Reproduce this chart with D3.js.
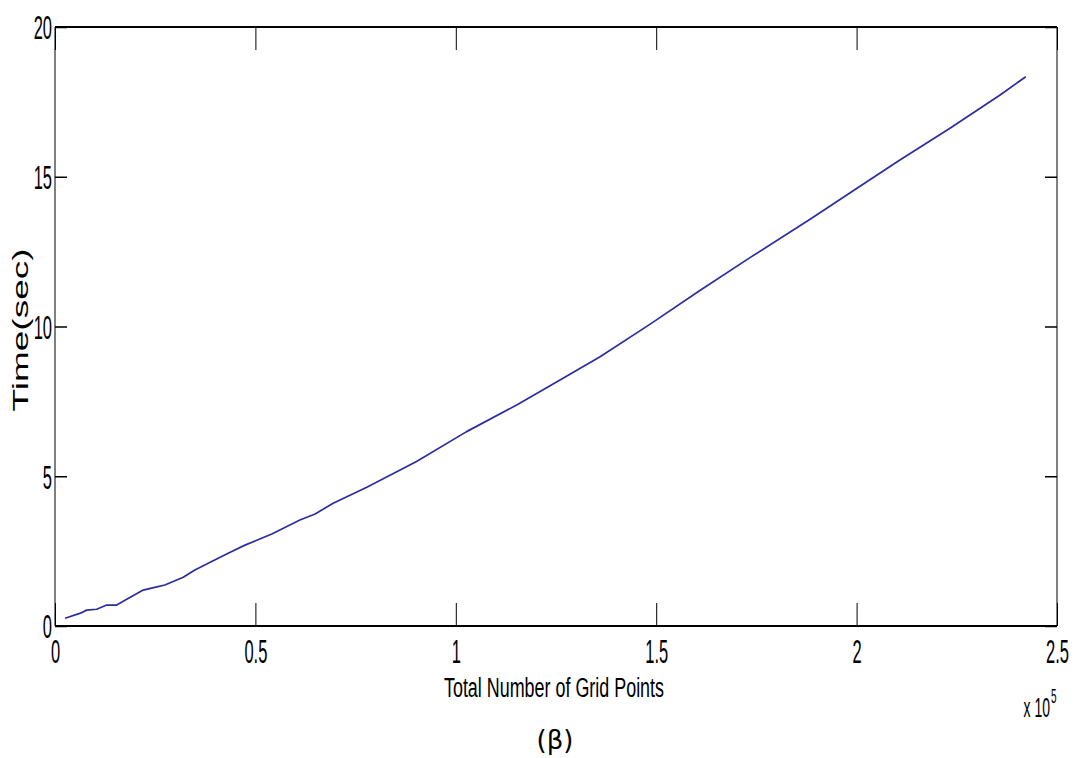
<!DOCTYPE html>
<html>
<head>
<meta charset="utf-8">
<script src="https://cdn.jsdelivr.net/npm/d3@7"></script>
<style>
  body { margin: 0; background: #fff; }
  text { font-family: "Liberation Sans", Arial, sans-serif; fill: #000; }
</style>
</head>
<body>
<div id="chart"></div>
<script>
// grid points vs run time
var gridPoints = [2500, 6200, 7900, 10400, 12900, 15400, 17900, 22000, 24900, 27400,
  32000, 34900, 39100, 43200, 47400, 54100, 61100, 64900, 69400, 77800,
  90200, 102700, 115200, 126000, 136000, 148500, 160900, 173400, 188400, 198300,
  210800, 223300, 235800, 242200];
var timeSec = [0.26, 0.42, 0.53, 0.56, 0.70, 0.70, 0.89, 1.20, 1.29, 1.37,
  1.63, 1.87, 2.15, 2.43, 2.70, 3.07, 3.54, 3.74, 4.10, 4.63,
  5.49, 6.49, 7.38, 8.21, 8.99, 10.08, 11.2, 12.3, 13.58, 14.46,
  15.56, 16.62, 17.73, 18.34];

var xTicks = [0, 50000, 100000, 150000, 200000, 250000];
var xTickLabels = ["0", "0.5", "1", "1.5", "2", "2.5"];
var yTicks = [0, 5, 10, 15, 20];
var yTickLabels = ["0", "5", "10", "15", "20"];

var W = 1078, H = 758;
var margin = {top: 27, right: 21, bottom: 132, left: 55};
var width = W - margin.left - margin.right,
  height = H - margin.top - margin.bottom;

var svg = d3.select("#chart").append("svg")
  .attr("width", W)
  .attr("height", H);

var g = svg.append("g")
  .attr("transform", "translate(" + margin.left + "," + margin.top + ")");

var x = d3.scaleLinear().domain([0, 250000]).range([0, width]);
var y = d3.scaleLinear().domain([0, 20]).range([height, 0]);

var squeeze = 0.5; // the figure's glyphs are narrow

// bottom axis, ticks pointing inward
var xAxis = g.append("g")
  .attr("transform", "translate(0," + height + ")")
  .call(d3.axisBottom(x).tickValues(xTicks)
    .tickFormat(function(d, i) { return xTickLabels[i]; })
    .tickSize(-23).tickPadding(0));
xAxis.select(".domain").remove();
xAxis.selectAll("line").attr("stroke", "#000").attr("stroke-width", 1);
xAxis.selectAll("text")
  .attr("y", 37).attr("dy", null)
  .style("font-size", "33px")
  .attr("transform", "scale(" + squeeze + ",1)");

// top axis, no labels
var xTop = g.append("g")
  .call(d3.axisTop(x).tickValues(xTicks).tickFormat("").tickSize(-23));
xTop.select(".domain").remove();
xTop.selectAll("line").attr("stroke", "#000").attr("stroke-width", 1);

// left axis
var yAxis = g.append("g")
  .call(d3.axisLeft(y).tickValues(yTicks)
    .tickFormat(function(d, i) { return yTickLabels[i]; })
    .tickSize(-12).tickPadding(0));
yAxis.select(".domain").remove();
yAxis.selectAll("line").attr("stroke", "#000").attr("stroke-width", 1.5);
yAxis.selectAll("text")
  .attr("x", -3 / squeeze).attr("dy", "0.36em")
  .style("font-size", "33px")
  .attr("transform", "scale(" + squeeze + ",1)");

// right axis, no labels
var yRight = g.append("g")
  .attr("transform", "translate(" + width + ",0)")
  .call(d3.axisRight(y).tickValues(yTicks).tickFormat("").tickSize(-12));
yRight.select(".domain").remove();
yRight.selectAll("line").attr("stroke", "#000").attr("stroke-width", 1.5);

// box
g.append("line").attr("x1", 0).attr("x2", width).attr("y1", 0).attr("y2", 0)
  .attr("stroke", "#000").attr("stroke-width", 2);
g.append("line").attr("x1", 0).attr("x2", width).attr("y1", height).attr("y2", height)
  .attr("stroke", "#000").attr("stroke-width", 2);
g.append("line").attr("x1", 0).attr("x2", 0).attr("y1", 0).attr("y2", height)
  .attr("stroke", "#000").attr("stroke-width", 1);
g.append("line").attr("x1", width).attr("x2", width).attr("y1", 0).attr("y2", height)
  .attr("stroke", "#000").attr("stroke-width", 1);

// the curve
var pts = gridPoints.map(function(d, i) { return [d, timeSec[i]]; });
var line = d3.line()
  .x(function(d) { return x(d[0]); })
  .y(function(d) { return y(d[1]); });

g.append("path")
  .datum(pts)
  .attr("d", line)
  .attr("fill", "none")
  .attr("stroke", "#2c2c9e")
  .attr("stroke-width", 1.7)
  .attr("stroke-linejoin", "round");

// axis titles
svg.append("text")
  .attr("text-anchor", "middle")
  .style("font-size", "28px")
  .attr("transform", "translate(554,697) scale(0.64,1)")
  .text("Total Number of Grid Points");

svg.append("text")
  .attr("text-anchor", "middle")
  .style("font-size", "37px")
  .attr("transform", "translate(28,330) rotate(-90) scale(1,0.6)")
  .text("Time(sec)");

// exponent
var ex = svg.append("text")
  .attr("text-anchor", "end")
  .attr("transform", "translate(1050,717) scale(0.5,1)")
  .style("font-size", "28px");
ex.append("tspan").text("x 10");
svg.append("text")
  .attr("transform", "translate(1051,703) scale(0.5,1)")
  .style("font-size", "20px")
  .text("5");

// panel caption
svg.append("text")
  .attr("x", 555).attr("y", 749)
  .attr("text-anchor", "middle")
  .style("font-family", "'DejaVu Sans', Verdana, sans-serif")
  .style("font-size", "26px")
  .text("(β)");
</script>
</body>
</html>
